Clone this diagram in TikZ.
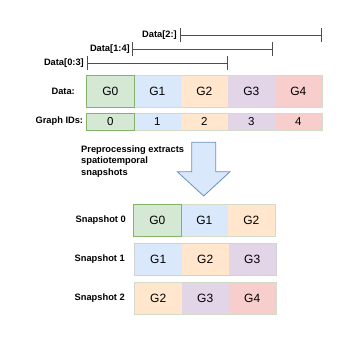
\documentclass[tikz,border=0pt]{standalone}
\usepackage{fontspec}
\setmainfont{Liberation Sans}
\usetikzlibrary{arrows.meta}
\definecolor{gfill}{HTML}{D5E8D4}
\definecolor{gline}{HTML}{82B366}
\definecolor{bfill}{HTML}{DAE8FC}
\definecolor{bline}{HTML}{6C8EBF}
\definecolor{ofill}{HTML}{FFE6CC}
\definecolor{pfill}{HTML}{E1D5E7}
\definecolor{rfill}{HTML}{F8CECC}
\definecolor{outl}{HTML}{D2DCC8}
\definecolor{rangec}{HTML}{4D4D4D}
\tikzset{
  cell/.style={rectangle, minimum width=47pt, minimum height=32pt, inner sep=0pt, anchor=north west, font=\fontsize{12}{14}\selectfont},
  idcell/.style={cell, minimum height=17pt, font=\fontsize{11.5}{13}\selectfont},
  lbl/.style={inner sep=0pt, font=\bfseries\fontsize{9.3}{11.3}\selectfont},
  rangeline/.style={draw=rangec, line width=0.9pt, {Bar[width=14pt,line width=0.9pt]}-{Bar[width=14pt,line width=0.9pt]}},
  rowframe/.style={draw=outl, line width=0.8pt},
}
\begin{document}
\begin{tikzpicture}[x=1pt,y=-1pt]
\useasboundingbox (0,0) rectangle (348,340);
% range lines
\node[lbl, anchor=east] (l2) at (177,35) {Data[2:]};
\node[lbl, anchor=east] (l14) at (130,49.3) {Data[1:4]};
\node[lbl, anchor=east] (l03) at (84,63.3) {Data[0:3]};
\coordinate (r2a) at (180.3,35); \coordinate (r2b) at (322.3,35);
\coordinate (r14a) at (132,49.3); \coordinate (r14b) at (273.3,49.3);
\coordinate (r03a) at (86.7,63.3); \coordinate (r03b) at (228.3,63.3);
\draw[rangeline] (r2a) -- (r2b);
\draw[rangeline] (r14a) -- (r14b);
\draw[rangeline] (r03a) -- (r03b);
% data row
\node[lbl, anchor=east] (ldata) at (75,91) {Data:};
\node[cell, fill=gfill] (d0) at (86.7,75) {G0};
\node[cell, fill=bfill] (d1) at (133.7,75) {G1};
\node[cell, fill=ofill] (d2) at (180.7,75) {G2};
\node[cell, fill=pfill] (d3) at (227.7,75) {G3};
\node[cell, fill=rfill] (d4) at (274.7,75) {G4};
\draw[rowframe] (d0.north west) rectangle (d4.south east);
\draw[draw=gline, line width=0.8pt] (d0.north west) rectangle (d0.south east);
% graph IDs row
\node[lbl, anchor=east] (lids) at (83.3,121.5) {Graph IDs:};
\node[idcell, fill=gfill] (i0) at (86.7,113) {0};
\node[idcell, fill=bfill] (i1) at (133.7,113) {1};
\node[idcell, fill=ofill] (i2) at (180.7,113) {2};
\node[idcell, fill=pfill] (i3) at (227.7,113) {3};
\node[idcell, fill=rfill] (i4) at (274.7,113) {4};
\draw[rowframe] (i0.north west) rectangle (i4.south east);
\draw[draw=gline, line width=0.8pt] (i0.north west) rectangle (i0.south east);
% arrow and text
\node[lbl, anchor=north west, align=left, font=\bfseries\fontsize{9.3}{11.3}\selectfont] (pre) at (81,145.5) {Preprocessing extracts\\spatiotemporal\\snapshots};
\draw[draw=bline, fill=bfill, line width=0.8pt] (191.7,142.3) -- (215.7,142.3) -- (215.7,171.7) -- (230,171.7) -- (203.7,196) -- (177.3,171.7) -- (191.7,171.7) -- cycle;
% snapshot 0
\node[lbl, anchor=east] (ls0) at (126,220) {Snapshot 0};
\node[cell, fill=gfill] (s00) at (133.6,204) {G0};
\node[cell, fill=bfill] (s01) at (180.6,204) {G1};
\node[cell, fill=ofill] (s02) at (227.6,204) {G2};
\draw[rowframe] (s00.north west) rectangle (s02.south east);
\draw[draw=gline, line width=0.8pt] (s00.north west) rectangle (s00.south east);
% snapshot 1
\node[lbl, anchor=east] (ls1) at (125,259.3) {Snapshot 1};
\node[cell, fill=bfill] (s10) at (134.5,243.3) {G1};
\node[cell, fill=ofill] (s11) at (181.5,243.3) {G2};
\node[cell, fill=pfill] (s12) at (228.5,243.3) {G3};
\draw[rowframe, draw=gray!35] (s10.north west) rectangle (s12.south east);
% snapshot 2
\node[lbl, anchor=east] (ls2) at (125,298.2) {Snapshot 2};
\node[cell, fill=ofill] (s20) at (134.5,282.3) {G2};
\node[cell, fill=pfill] (s21) at (181.5,282.3) {G3};
\node[cell, fill=rfill] (s22) at (228.5,282.3) {G4};
\draw[rowframe] (s20.north west) rectangle (s22.south east);
\end{tikzpicture}
\end{document}
